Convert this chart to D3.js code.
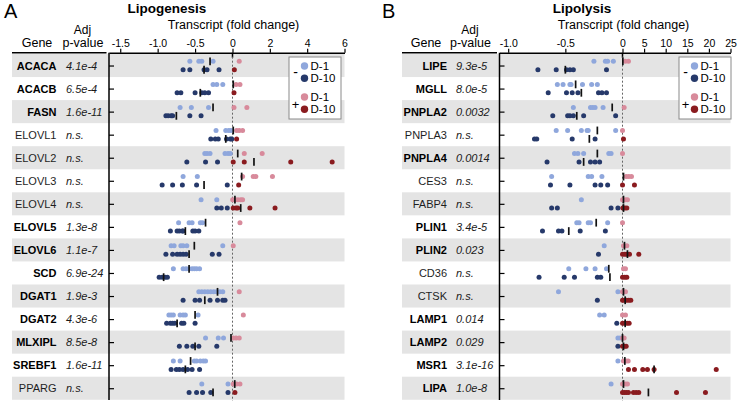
<!DOCTYPE html>
<html><head><meta charset="utf-8">
<script src="https://cdn.jsdelivr.net/npm/d3@7"></script>
<style>body{margin:0;background:#fff}svg{display:block;font-family:"Liberation Sans",Arial,sans-serif}</style>
</head><body><svg id="c" width="740" height="403"></svg>
<script>
// ---------------- DATA ----------------
const leftGenes = ["ACACA","ACACB","FASN","ELOVL1","ELOVL2","ELOVL3","ELOVL4","ELOVL5","ELOVL6","SCD","DGAT1","DGAT2","MLXIPL","SREBF1","PPARG"];
const leftBold = [1,1,1,0,0,0,0,1,1,1,1,1,1,1,0];
const leftPvals = ["4.1e-4","6.5e-4","1.6e-11","n.s.","n.s.","n.s.","n.s.","1.3e-8","1.1e-7","6.9e-24","1.9e-3","4.3e-6","8.5e-8","1.6e-11","n.s."];
const leftTicks = [-1.5,-1.0,-0.5,0,2,4,6];
const leftTickLabels = ["-1.5","-1.0","-0.5","0","2","4","6"];
// D-1, minus (light blue)
const leftD1Minus = [
 [-0.57,-0.45,-0.41,-0.26],[-0.26,-0.21,-0.13],[-0.70,-0.55,-0.32],[-0.22,-0.09,-0.05,-0.02],
 [-0.37,-0.34,-0.30,-0.10,-0.06,-0.03],[-0.66,-0.47],[-0.42,-0.21],[-0.72,-0.58,-0.54,-0.43,-0.40],
 [-0.82,-0.78,-0.69,-0.66,-0.61,-0.13],[-0.79,-0.66,-0.62,-0.58,-0.54,-0.51,-0.48,-0.44],
 [-0.45,-0.41,-0.37,-0.33,-0.29,-0.25,-0.21,-0.17,-0.13],[-0.85,-0.82,-0.79,-0.70,-0.66,-0.63,-0.46],
 [-0.36,-0.19,-0.12],[-0.79,-0.70,-0.51,-0.48,-0.43,-0.39,-0.36],[-0.41,-0.06]];
// D-10, minus (navy)
const leftD10Minus = [
 [-0.66,-0.57,-0.38,-0.34,-0.18],[-0.74,-0.69,-0.50,-0.41,-0.37,-0.32],[-0.89,-0.86,-0.82,-0.80,-0.57,-0.42],
 [-0.29,-0.23,-0.19,-0.08,-0.03,-0.01],[-0.61,-0.36,-0.20],[-0.94,-0.80,-0.67,-0.48,-0.07],[-0.21,-0.15,-0.07],
 [-0.83,-0.74,-0.71,-0.67,-0.66,-0.53,-0.50,-0.45],[-0.89,-0.80,-0.74,-0.70,-0.66,-0.62,-0.27,-0.18],
 [-0.98,-0.94,-0.90,-0.87],[-0.66,-0.50,-0.44,-0.30,-0.20,-0.13,-0.10],[-0.88,-0.83,-0.80,-0.77,-0.68,-0.65,-0.50],
 [-0.71,-0.61,-0.53,-0.45,-0.21],[-0.82,-0.75,-0.71,-0.66,-0.60,-0.54,-0.44],[-0.58,-0.48,-0.40,-0.29,-0.06]];
// D-1, plus (pink)
const leftD1Plus = [
 [0.36],[0.19,0.40],[0.08,0.77],[0.22,0.36,0.54],[0.63,1.59],[0.54,1.11,1.25,2.14],[0.01,0.15,0.29,0.44,0.54],
 [0.40],[0.04],[],[0.36],[0.58],[0.04,0.19,0.36],[],[0.04,0.22,0.40]];
// D-10, plus (dark red)
const leftD10Plus = [
 [0.10],[0.08],[],[0.22],[0.04,0.63,3.12,5.34],[0.33],[0.04,0.19,0.28,0.93,2.28],
 [],[],[],[],[],[],[],[0.13]];
const leftMedD1Minus  = [-0.30,null,-0.26,null,null,null,null,-0.36,-0.51,-0.58,-0.20,-0.50,null,-0.56,null];
const leftMedD10Minus = [-0.38,-0.43,-0.75,-0.09,null,-0.38,null,-0.63,-0.58,-0.92,-0.37,-0.74,-0.50,-0.63,-0.26];
const leftMedD1Plus   = [null,0.04,null,0.04,0.28,0.49,0.13,null,null,null,null,null,-0.02,null,0.12];
const leftMedD10Plus  = [null,null,null,null,1.15,null,0.44,null,null,null,null,null,null,null,null];

const rightGenes = ["LIPE","MGLL","PNPLA2","PNPLA3","PNPLA4","CES3","FABP4","PLIN1","PLIN2","CD36","CTSK","LAMP1","LAMP2","MSR1","LIPA"];
const rightBold = [1,1,1,0,1,0,0,1,1,0,0,1,1,1,1];
const rightPvals = ["9.3e-5","8.0e-5","0.0032","n.s.","0.0014","n.s.","n.s.","3.4e-5","0.023","n.s.","n.s.","0.014","0.029","3.1e-16","1.0e-8"];
const rightTicks = [-1.0,-0.5,0,5,10,15,20,25];
const rightTickLabels = ["-1.0","-0.5","0","5","10","15","20","25"];
const rightD1Minus = [
 [-0.25,-0.15,-0.13,-0.08],[-0.57,-0.52,-0.46,-0.45,-0.35,-0.27,-0.22],[-0.43,-0.28,-0.26,-0.24,-0.17],
 [-0.58,-0.48,-0.36,-0.31,-0.30,-0.06],[-0.42,-0.39,-0.34,-0.12,-0.10],[-0.62,-0.30,-0.27,-0.18],[-0.36],
 [-0.40,-0.38,-0.30,-0.28,-0.13],[-0.16],[-0.47,-0.32,-0.24,-0.14],[-0.56,-0.04],[-0.20,-0.16],
 [-0.04,-0.02],[-0.04],[-0.10]];
const rightD10Minus = [
 [-0.74,-0.58,-0.49,-0.46,-0.43,-0.14],[-0.65,-0.49,-0.44,-0.39,-0.21,-0.18,-0.14],[-0.61,-0.48,-0.46,-0.43,-0.34,-0.06],
 [-0.77,-0.75,-0.44,-0.24],[-0.66,-0.38,-0.28,-0.24,-0.20],[-0.63,-0.46,-0.24,-0.19,-0.13],[-0.62,-0.57,-0.10,-0.04],
 [-0.70,-0.56,-0.53,-0.37,-0.15],[-0.21],[-0.73,-0.51,-0.42,-0.22,-0.19],[-0.22],[-0.05],[-0.04],[],[]];
const rightD1Plus = [
 [0.62,1.38],[],[0.38],[0],[0],[0.85,1.46,2.08],[0,0.69,1.15],[0],[0.23,1.0],[0.23,0.69],[0,0.69],[0,0.69],
 [0,0.38],[0.23,0.85,1.31],[0,0.69,1.15]];
const rightD10Plus = [
 [],[],[],[0.23],[],[0,2.77],[0.08,0.54,1.0],[],[0,0.54,1.0,1.62,3.77],[0,0.54,1.0],[0,0.46,0.92,1.46,1.92],
 [0,0.54,1.08,1.54],[0,0.46,0.85],[1.38,2.77,4.69,5.77,7.31,21.7],[0,0.46,0.92,1.38,2.54,3.15,3.77,12.5,19.2]];
const rightMedD1Minus  = [null,-0.41,-0.09,-0.22,-0.22,null,null,-0.23,null,-0.12,null,null,null,null,null];
const rightMedD10Minus = [-0.50,-0.36,-0.40,-0.29,-0.34,null,null,-0.47,null,-0.11,null,null,null,null,null];
const rightMedD1Plus   = [0.08,null,null,null,null,0.23,0.23,null,0.46,null,0.23,null,0,0.54,0.23];
const rightMedD10Plus  = [null,null,null,null,null,null,0.23,null,1.15,null,0.62,0.62,0.23,7.31,6.0];

const legendLabels = ["D-1","D-10","D-1","D-10"];
const legendSigns = ["-","+"];
// --------------------------------------

const colors = {d1m:"#8fa7dc", d10m:"#26396a", d1p:"#d88a9b", d10p:"#8a1b1f"};
const svg = d3.select("#c");

function panel(c){
  const g = svg.append("g");
  const x = d3.scaleLinear().domain(c.domain).range(c.range);
  const y = d3.scaleBand().domain(c.genes).range([54, 54 + 15*23.05]);
  const bw = y.bandwidth();
  const cy = gname => y(gname) + bw/2;
  const axisTop = 52.7;

  // stripes
  g.selectAll("rect.band").data(c.genes.filter((d,i)=>i%2===0)).enter().append("rect")
    .attr("x", c.bandX0).attr("width", c.range[2]-c.bandX0)
    .attr("y", d=>y(d)).attr("height", bw).attr("fill","#e4e4e4");

  // labels
  g.append("text").attr("x", c.letterX).attr("y", 18).attr("font-size", 20).text(c.letter);
  g.append("text").attr("x", c.titleX).attr("y", 13).attr("font-size", 13.5).attr("font-weight","bold")
    .attr("text-anchor","middle").text(c.title);
  g.append("text").attr("x", x(0)+1).attr("y", 29).attr("font-size", 12.5)
    .attr("text-anchor","middle").text("Transcript (fold change)");
  g.append("text").attr("x", c.geneHX).attr("y", 47).attr("font-size", 12.5).attr("text-anchor","middle").text("Gene");
  g.append("text").attr("x", c.adjX).attr("y", 33.6).attr("font-size", 12).attr("text-anchor","middle").text("Adj");
  g.append("text").attr("x", c.adjX+0.5).attr("y", 47.3).attr("font-size", 12.5).attr("text-anchor","middle").text("p-value");

  // separator
  g.append("line").attr("x1", c.bandX0).attr("x2", c.range[0]-2.5).attr("y1", axisTop).attr("y2", axisTop)
    .attr("stroke","#000").attr("stroke-width",1.5);

  // top axis
  const ax = g.append("g").attr("transform",`translate(0,${axisTop})`)
    .call(d3.axisTop(x).tickValues(c.ticks).tickFormat((d,i)=>c.tickLabels[i]).tickSize(4).tickSizeOuter(0).tickPadding(2));
  ax.select(".domain").attr("stroke-width",1.5);
  ax.selectAll(".tick line").attr("stroke-width",1.2);
  ax.selectAll(".tick text").attr("font-size",10.5).attr("font-family","Liberation Sans, Arial, sans-serif");
  g.append("line").attr("x1",x(0)).attr("x2",x(0)).attr("y1",axisTop).attr("y2",axisTop+5)
    .attr("stroke","#000").attr("stroke-width",1.5);

  // left vertical axis
  const yc = d3.scalePoint().domain(c.genes).range([cy(c.genes[0]), cy(c.genes[14])]);
  const vax = g.append("g").attr("transform",`translate(${c.range[0]},0)`)
    .call(d3.axisRight(yc).tickSize(5).tickSizeOuter(0).tickFormat(""));
  vax.select(".domain").attr("d", `M0,${axisTop}V400`).attr("stroke-width",1.5);
  vax.selectAll(".tick line").attr("stroke-width",1.2);

  // zero dotted line
  g.append("line").attr("x1",x(0)).attr("x2",x(0)).attr("y1",axisTop+4).attr("y2",401)
    .attr("stroke","#666").attr("stroke-width",1).attr("stroke-dasharray","2,2");

  // gene names and p-values
  g.selectAll("text.gene").data(c.genes).enter().append("text")
    .attr("x", c.geneRX).attr("y", d=>cy(d)+4).attr("text-anchor","end").attr("font-size",11)
    .attr("font-weight",(d,i)=>c.bold[i]?"bold":"normal").attr("fill",(d,i)=>c.bold[i]?"#000":"#1e1e1e").text(d=>d);
  g.selectAll("text.pv").data(c.pvals).enter().append("text")
    .attr("x", c.pX).attr("y", (d,i)=>cy(c.genes[i])+4).attr("font-size",11).attr("font-style","italic")
    .attr("fill","#1a1a1a").text(d=>d);

  // dots
  const groups = [
    {vals:c.d1m, med:c.m1m, col:colors.d1m, off:-4.2},
    {vals:c.d1p, med:c.m1p, col:colors.d1p, off:-4.2},
    {vals:c.d10m, med:c.m10m, col:colors.d10m, off:4.2},
    {vals:c.d10p, med:c.m10p, col:colors.d10p, off:4.2}];
  groups.forEach(gr=>{
    const pts = [];
    gr.vals.forEach((arr,i)=>arr.forEach(v=>pts.push({v, gy: cy(c.genes[i])+gr.off})));
    g.append("g").selectAll("circle").data(pts).enter().append("circle")
      .attr("cx", d=>x(d.v)).attr("cy", d=>d.gy).attr("r",2.5).attr("fill",gr.col);
  });
  groups.forEach(gr=>{
    const meds = gr.med.map((v,i)=>({v, gy: cy(c.genes[i])+gr.off})).filter(d=>d.v!==null);
    g.append("g").selectAll("line").data(meds).enter().append("line")
      .attr("x1",d=>x(d.v)).attr("x2",d=>x(d.v)).attr("y1",d=>d.gy-3.9).attr("y2",d=>d.gy+3.9)
      .attr("stroke","#111").attr("stroke-width",1.7);
  });

  // legend
  const L = c.legendX;
  const lg = g.append("g");
  lg.append("rect").attr("x",L).attr("y",57).attr("width",52).attr("height",62)
    .attr("fill","#fff").attr("stroke","#8a8a8a").attr("stroke-width",1);
  const ly = [66, 78.2, 97, 109.2];
  const lc = [colors.d1m, colors.d10m, colors.d1p, colors.d10p];
  legendLabels.forEach((t,i)=>{
    lg.append("circle").attr("cx",L+15.5).attr("cy",ly[i]).attr("r",3.7).attr("fill",lc[i]);
    lg.append("text").attr("x",L+21.5).attr("y",ly[i]+4.1).attr("font-size",11.5).text(t);
  });
  lg.append("text").attr("x",L+6.5).attr("y",76.5).attr("font-size",14).attr("text-anchor","middle").text(legendSigns[0]);
  lg.append("text").attr("x",L+6.5).attr("y",108.5).attr("font-size",13).attr("text-anchor","middle").text(legendSigns[1]);
}

panel({letter:"A", letterX:4, title:"Lipogenesis", titleX:167, geneHX:37, adjX:82.5,
  domain:[-1.65,0,6], range:[109,232.5,344.5], bandX0:12, geneRX:56.5, pX:66, legendX:289,
  ticks:leftTicks, tickLabels:leftTickLabels, genes:leftGenes, bold:leftBold, pvals:leftPvals,
  d1m:leftD1Minus, d10m:leftD10Minus, d1p:leftD1Plus, d10p:leftD10Plus,
  m1m:leftMedD1Minus, m10m:leftMedD10Minus, m1p:leftMedD1Plus, m10p:leftMedD10Plus});
panel({letter:"B", letterX:382, title:"Lipolysis", titleX:582, geneHX:426, adjX:470,
  domain:[-1.076,0,25], range:[499.5,622.5,730.5], bandX0:402, geneRX:447, pX:456, legendX:679,
  ticks:rightTicks, tickLabels:rightTickLabels, genes:rightGenes, bold:rightBold, pvals:rightPvals,
  d1m:rightD1Minus, d10m:rightD10Minus, d1p:rightD1Plus, d10p:rightD10Plus,
  m1m:rightMedD1Minus, m10m:rightMedD10Minus, m1p:rightMedD1Plus, m10p:rightMedD10Plus});
</script></body></html>
